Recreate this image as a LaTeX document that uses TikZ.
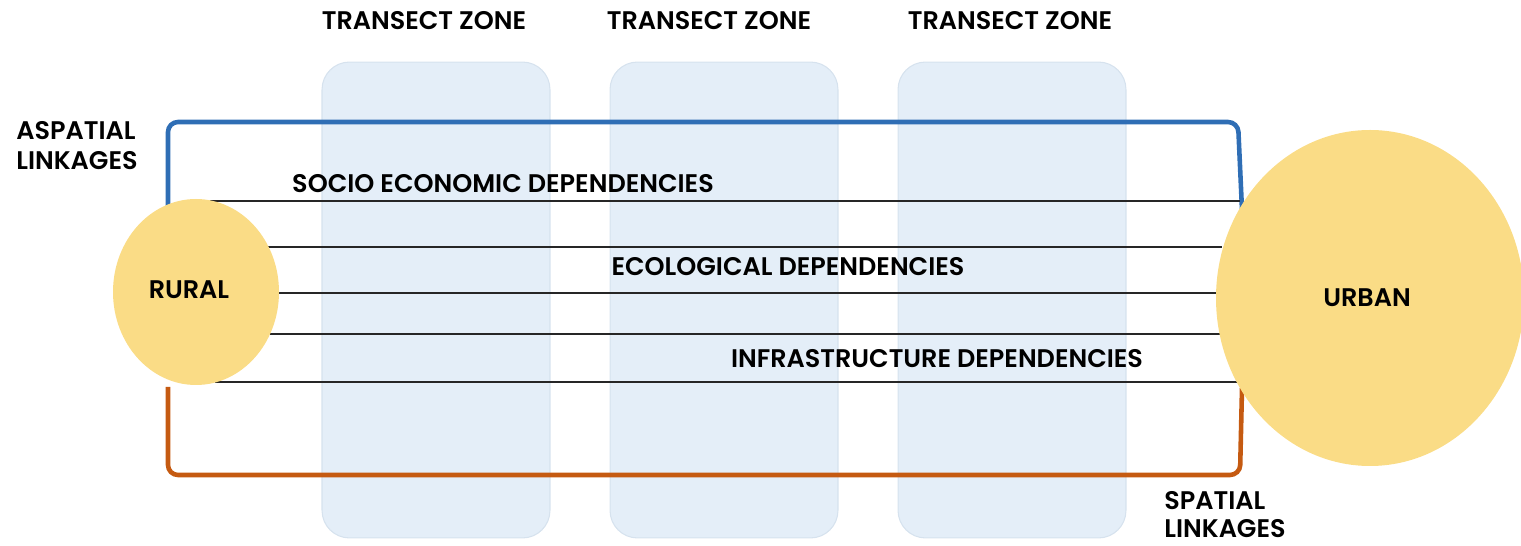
\documentclass[tikz,border=0pt]{standalone}
\usepackage{fontspec}
\setmainfont{Poppins}[BoldFont={Poppins SemiBold}]
\begin{document}
\begin{tikzpicture}[x=0.02cm,y=-0.02cm,
  zone/.style={fill=zonefill,draw=zoneedge,line width=0.6pt,rounded corners=0.55cm},
  lbl/.style={font=\fontsize{14.5}{17}\selectfont\bfseries,text=black,inner sep=0pt},
  dep/.style={draw=black!85,line width=0.8pt},
  link/.style={line width=2.6pt,rounded corners=0.2cm}]
\definecolor{zonefill}{HTML}{E4EEF8}
\definecolor{zoneedge}{HTML}{D6E2EE}
\definecolor{hubfill}{HTML}{FADC86}
\definecolor{linkblue}{HTML}{2F6EB5}
\definecolor{linkorange}{HTML}{C55A11}
\useasboundingbox (0,0) rectangle (1521,546);

% transect zones
\node[zone,minimum width=4.56cm,minimum height=9.52cm] (z1) at (436,300) {};
\node[zone,minimum width=4.56cm,minimum height=9.52cm] (z2) at (724,300) {};
\node[zone,minimum width=4.56cm,minimum height=9.52cm] (z3) at (1012,300) {};
\node[lbl,anchor=base] (t1) at (424,30) {TRANSECT ZONE};
\node[lbl,anchor=base] (t2) at (709,30) {TRANSECT ZONE};
\node[lbl,anchor=base] (t3) at (1010,30) {TRANSECT ZONE};

% linkage brackets
\coordinate (ab1) at (168,210);
\coordinate (ab2) at (1242,210);
\coordinate (sb1) at (168,387);
\coordinate (sb2) at (1242,388);
\draw[link,draw=linkblue] (ab1) -- (168,122) -- (1238,122) -- (ab2);
\draw[link,draw=linkorange] (sb1) -- (168,475) -- (1240,475) -- (sb2);

% dependency lines
\coordinate (d1a) at (210,201);  \coordinate (d1b) at (1240,201);
\coordinate (d2a) at (262,247);  \coordinate (d2b) at (1222,247);
\coordinate (d3a) at (275,293);  \coordinate (d3b) at (1222,293);
\coordinate (d4a) at (270,334);  \coordinate (d4b) at (1222,334);
\coordinate (d5a) at (215,382);  \coordinate (d5b) at (1240,382);
\draw[dep] (d1a) -- (d1b);
\draw[dep] (d2a) -- (d2b);
\draw[dep] (d3a) -- (d3b);
\draw[dep] (d4a) -- (d4b);
\draw[dep] (d5a) -- (d5b);

% rural and urban
\fill[hubfill] (196,292) ellipse [x radius=83, y radius=93];
\fill[hubfill] (1370,298) ellipse [x radius=154, y radius=168];
\node[lbl] (rural) at (189,290) {RURAL};
\node[lbl] (urban) at (1367,298) {URBAN};

% labels
\node[lbl,anchor=base] (s1) at (503,193) {SOCIO ECONOMIC DEPENDENCIES};
\node[lbl,anchor=base] (s2) at (788,276) {ECOLOGICAL DEPENDENCIES};
\node[lbl,anchor=base] (s3) at (937,368) {INFRASTRUCTURE DEPENDENCIES};
\node[lbl,anchor=north west,align=left] (asp) at (16,121) {ASPATIAL\\LINKAGES};
\node[lbl,font=\fontsize{14.5}{16}\selectfont\bfseries,anchor=north west,align=left] (sp) at (1164,491) {SPATIAL\\LINKAGES};
\end{tikzpicture}
\end{document}
